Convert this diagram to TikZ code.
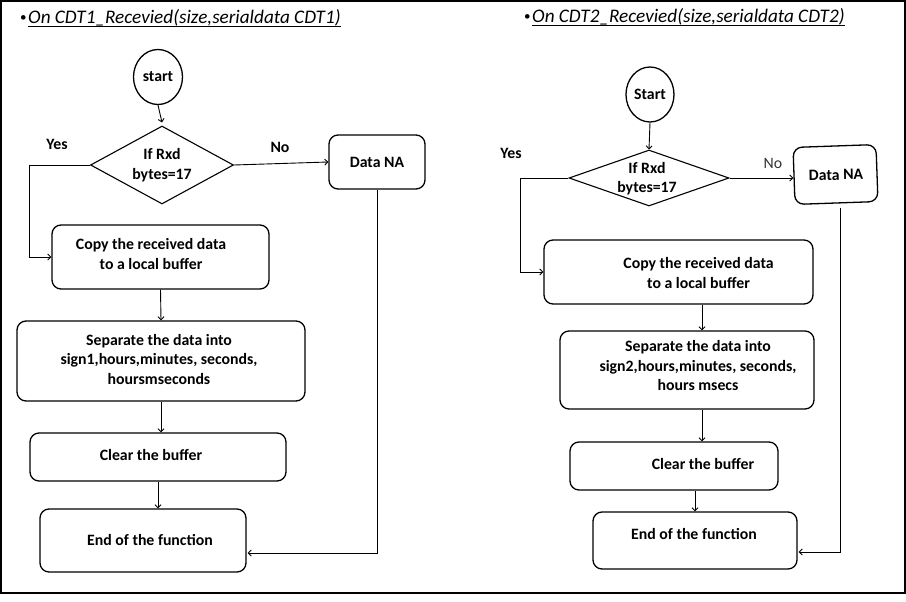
\documentclass[tikz,border=0pt]{standalone}
\usepackage{fontspec}
\setmainfont{Carlito}
\usetikzlibrary{arrows.meta,shapes.geometric}
\tikzset{
  box/.style={draw, line width=1.3pt, rounded corners=9pt, inner sep=0pt},
  oval/.style={draw, ellipse, line width=1.3pt, inner sep=0pt, font=\bfseries\fontsize{15.8}{19}\selectfont},
  dec/.style={draw, diamond, line width=1.1pt, inner sep=0pt},
  txt/.style={font=\bfseries\fontsize{15.8}{19.5}\selectfont, align=center, inner sep=0pt},
  lbl/.style={font=\bfseries\fontsize{15.8}{18}\selectfont, inner sep=0pt},
  lblthin/.style={font=\fontsize{15.8}{18}\selectfont, inner sep=0pt, text=black!80},
  ttl/.style={font=\itshape\fontsize{19.2}{22}\selectfont, inner sep=0pt, anchor=base west},
  bul/.style={font=\fontsize{13}{15}\selectfont, inner sep=0pt, anchor=base west},
  arr/.style={draw, line width=0.9pt, -{Straight Barb[length=3pt,width=6pt]}},
  ln/.style={draw, line width=0.9pt},
}
\begin{document}
\begin{tikzpicture}[x=1pt,y=-1pt]
\useasboundingbox (0,0) rectangle (906,602);
\node[draw, line width=1.2pt, minimum width=904pt, minimum height=592pt, inner sep=0pt] (frame) at (453,297) {};

% ---------------- left panel ----------------
\node[bul] (bulA) at (20,22) {•};
\node[ttl] (titA) at (28,24) {On CDT1\_Recevied(size,serialdata CDT1)};
\draw[line width=0.9pt] ([yshift=-2pt]titA.base west) -- ([yshift=-2pt]titA.base east);

\node[oval, minimum width=49pt, minimum height=55pt] (startA) at (158,77) {start};
\node[dec, minimum width=143pt, minimum height=78pt] (decA) at (162,165) {};
\node[txt] (decAt) at (162,165) {If Rxd\\bytes=17};
\node[box, minimum width=96pt, minimum height=54pt] (dnaA) at (377,162) {};
\node[txt] (dnaAt) at (377,162) {Data NA};
\node[box, minimum width=217pt, minimum height=64pt] (copyA) at (160.5,257) {};
\node[txt] (copyAt) at (151,254) {Copy the received data\\to a local buffer};
\node[box, minimum width=288pt, minimum height=80pt] (sepA) at (161,361) {};
\node[txt] (sepAt) at (159,359.5) {Separate the data into\\sign1,hours,minutes, seconds,\\hoursmseconds};
\node[box, minimum width=256pt, minimum height=48pt] (clrA) at (158,457) {};
\node[txt] (clrAt) at (151,455) {Clear the buffer};
\node[box, minimum width=206pt, minimum height=63pt] (endA) at (143,540.5) {};
\node[txt] (endAt) at (150,540) {End of the function};

\node[lbl] (yesA) at (57,144) {Yes};
\node[lbl] (noA) at (280,147) {No};

\draw[arr] (startA.south) -- ([yshift=3pt]decA.north);
\draw[arr] (decA.east) -- (dnaA.west);
\draw[arr] (decA.west) -- ++(-61,0) |- (copyA.west);
\draw[arr] (copyA.south) -- (sepA.north);
\draw[arr] (sepA.south) -- (sepA.south |- clrA.north);
\draw[arr] (clrA.south) -- (clrA.south |- endA.north);
\draw[arr] (dnaA.south) |- ([xshift=1pt,yshift=-12.5pt]endA.east);

% ---------------- right panel ----------------
\node[bul] (bulB) at (524,21) {•};
\node[ttl] (titB) at (532,23) {On CDT2\_Recevied(size,serialdata CDT2)};
\draw[line width=0.9pt] ([yshift=-2pt]titB.base west) -- ([yshift=-2pt]titB.base east);

\node[oval, minimum width=48pt, minimum height=55pt] (startB) at (650,94.5) {Start};
\node[dec, minimum width=160pt, minimum height=56pt] (decB) at (649,178) {};
\node[txt] (decBt) at (647,178.5) {If Rxd\\bytes=17};
\node[box, rotate=2, minimum width=83pt, minimum height=57pt] (dnaB) at (835.5,174.5) {};
\node[txt, rotate=1] (dnaBt) at (836,175) {Data NA};
\node[box, minimum width=269pt, minimum height=64pt] (copyB) at (678.5,272) {};
\node[txt] (copyBt) at (698.5,273) {Copy the received data\\to a local buffer};
\node[box, minimum width=254pt, minimum height=78pt] (sepB) at (687,370) {};
\node[txt] (sepBt) at (698,366) {Separate the data into\\sign2,hours,minutes, seconds,\\hours msecs};
\node[box, minimum width=208pt, minimum height=48pt] (clrB) at (674,466) {};
\node[txt] (clrBt) at (703,464) {Clear the buffer};
\node[box, minimum width=204pt, minimum height=57pt] (endB) at (695,540.5) {};
\node[txt] (endBt) at (694,534) {End of the function};

\node[lbl] (yesB) at (511,153) {Yes};
\node[lblthin] (noB) at (773,163) {No};

\draw[arr] (startB.south) -- (decB.north);
\draw[arr] (decB.east) -- (decB.east -| dnaB.west);
\draw[arr] (decB.west) -- ++(-48,0) |- (copyB.west);
\draw[arr] ([xshift=23.5pt]copyB.south) -- ([xshift=23.5pt]copyB.south |- sepB.north);
\draw[arr] ([xshift=15pt]sepB.south) -- ([xshift=15pt]sepB.south |- clrB.north);
\draw[arr] (endB.north |- clrB.south) -- (endB.north);
\draw[arr] ([xshift=3.5pt,yshift=-4pt]dnaB.south) |- ([xshift=1pt,yshift=-11.5pt]endB.east);
\end{tikzpicture}
\end{document}
